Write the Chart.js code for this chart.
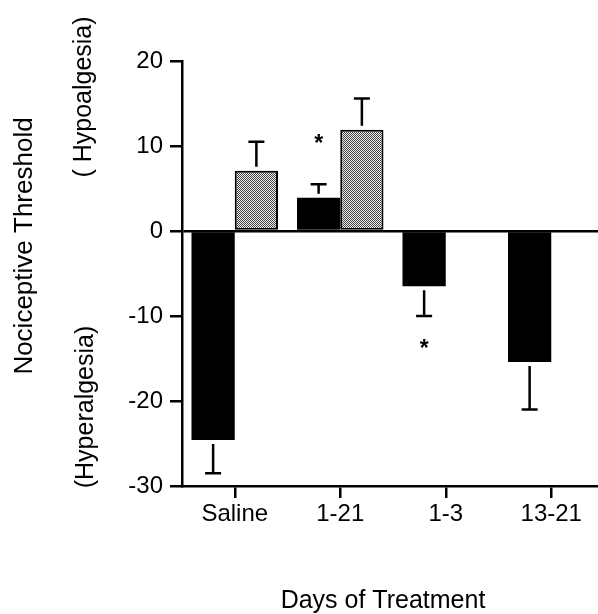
<!DOCTYPE html>
<html>
<head>
<meta charset="utf-8">
<script src="https://cdn.jsdelivr.net/npm/chart.js@4"></script>
<style>
  html, body { margin: 0; padding: 0; background: #fff; overflow: hidden; }
  #wrap { width: 598px; height: 614px; overflow: hidden; }
</style>
</head>
<body>
<div id="wrap"><canvas id="chart" width="606" height="614"></canvas></div>
<script>
// data
const categories = ['Saline', '1-21', '1-3', '13-21'];
const blackValues = [-24.6, 3.9, -6.5, -15.4];
const grayValues = [7.1, 11.9, null, null];
const blackErrors = [3.9, 1.6, 3.5, 5.6];
const grayErrors = [3.4, 3.7, null, null];
const starValues = [null, 11.1, -13.0, null]; // asterisks over the black bars
const yMin = -30, yMax = 20, yStep = 10;

const FONT = '"Liberation Sans", Arial, Helvetica, sans-serif';

// stippled fill for the grey bars
function makeStipple() {
  const c = document.createElement('canvas');
  c.width = 2; c.height = 2;
  const g = c.getContext('2d');
  g.fillStyle = '#eeeeee';
  g.fillRect(0, 0, 2, 2);
  g.fillStyle = '#444444';
  g.fillRect(0, 0, 1, 1);
  g.fillRect(1, 1, 1, 1);
  return g.createPattern(c, 'repeat');
}

const errorsByDataset = [blackErrors, grayErrors];

// error bars (one side only, away from zero) with a small gap from the bar
const errorBars = {
  id: 'errorBars',
  afterDatasetsDraw(chart) {
    const ctx = chart.ctx;
    const y = chart.scales.y;
    ctx.save();
    ctx.strokeStyle = '#000';
    ctx.lineWidth = 2.5;
    chart.data.datasets.forEach((ds, i) => {
      const meta = chart.getDatasetMeta(i);
      ds.data.forEach((v, j) => {
        const e = errorsByDataset[i][j];
        if (v == null || e == null) return;
        const bar = meta.data[j];
        const end = v >= 0 ? v + e : v - e;
        const yEnd = y.getPixelForValue(end);
        const yStart = bar.y + (v >= 0 ? -4 : 4);
        ctx.beginPath();
        ctx.moveTo(bar.x, yStart);
        ctx.lineTo(bar.x, yEnd);
        ctx.moveTo(bar.x - 8, yEnd);
        ctx.lineTo(bar.x + 8, yEnd);
        ctx.stroke();
      });
    });
    ctx.restore();
  }
};

// asterisks, axis titles and the side annotations
const labels = {
  id: 'labels',
  afterDraw(chart) {
    const ctx = chart.ctx;
    const y = chart.scales.y;
    const meta = chart.getDatasetMeta(0);
    ctx.save();
    ctx.fillStyle = '#000';
    ctx.font = 'bold 23px ' + FONT;
    ctx.textAlign = 'center';
    ctx.textBaseline = 'alphabetic';
    starValues.forEach((s, j) => {
      if (s == null) return;
      ctx.fillText('*', meta.data[j].x, y.getPixelForValue(s) + 14);
    });

    ctx.font = '25px ' + FONT;
    ctx.textBaseline = 'middle';
    ctx.fillText('Days of Treatment', 383, 601);

    const vert = (text, x, yy, size) => {
      ctx.save();
      ctx.translate(x, yy);
      ctx.rotate(-Math.PI / 2);
      ctx.font = size + 'px ' + FONT;
      ctx.fillText(text, 0, 0);
      ctx.restore();
    };
    vert('Nociceptive Threshold', 25, 246, 26);
    vert('( Hypoalgesia)', 84, 97, 25);
    vert('(Hyperalgesia)', 86, 407, 25);
    ctx.restore();
  }
};

new Chart(document.getElementById('chart'), {
  type: 'bar',
  data: {
    labels: categories,
    datasets: [
      {
        data: blackValues,
        backgroundColor: '#000',
        borderWidth: 0,
        categoryPercentage: 0.82,
        barPercentage: 1
      },
      {
        data: grayValues,
        backgroundColor: makeStipple(),
        borderColor: '#000',
        borderWidth: 2,
        borderSkipped: false,
        categoryPercentage: 0.82,
        barPercentage: 1
      }
    ]
  },
  options: {
    responsive: false,
    animation: false,
    layout: { padding: { top: 61, right: 2, left: 0, bottom: 0 } },
    plugins: { legend: { display: false }, tooltip: { enabled: false } },
    scales: {
      x: {
        grid: {
          offset: false,
          drawOnChartArea: false,
          tickLength: 12,
          color: '#000',
          lineWidth: 2.5
        },
        border: { display: true, color: '#000', width: 2.5 },
        ticks: { color: '#000', font: { family: FONT, size: 24 }, padding: 2, maxRotation: 0 },
        afterFit(scale) { scale.height = 128; }
      },
      y: {
        min: yMin,
        max: yMax,
        grid: {
          drawOnChartArea: true,
          tickLength: 12,
          color: (c) => (c.tick && c.tick.value === 0 ? '#000' : 'rgba(0,0,0,0)'),
          tickColor: '#000',
          lineWidth: 2.5
        },
        border: { display: true, color: '#000', width: 2.5 },
        ticks: { stepSize: yStep, color: '#000', font: { family: FONT, size: 24 }, padding: 7 },
        afterFit(scale) { scale.width = 182; }
      }
    }
  },
  plugins: [errorBars, labels]
});
</script>
</body>
</html>
